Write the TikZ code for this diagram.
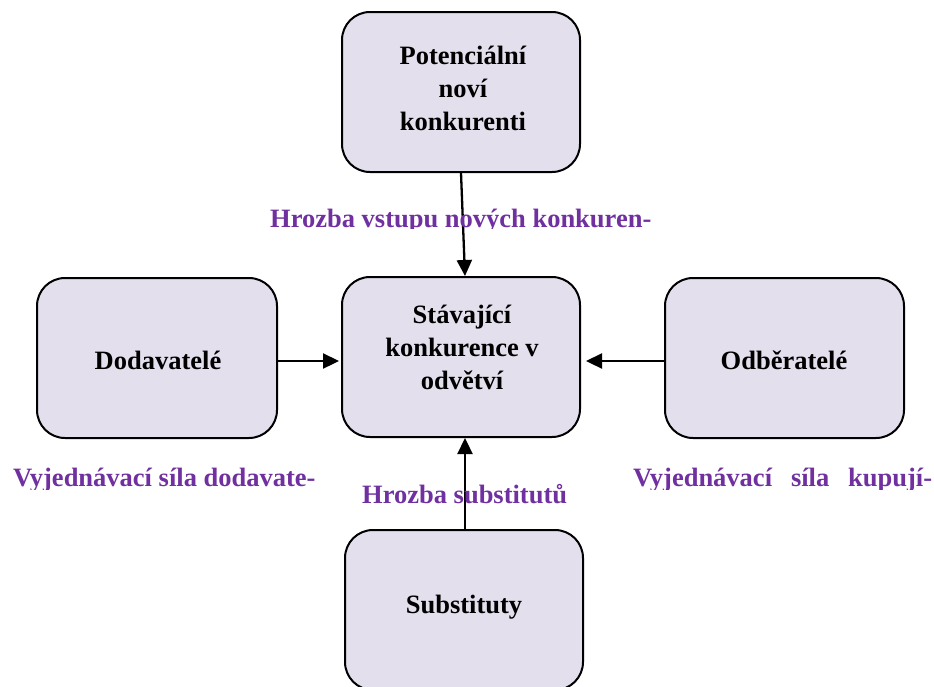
\documentclass[tikz,border=0pt]{standalone}
\usepackage{fontspec}
\setmainfont{Liberation Serif}
\usetikzlibrary{arrows.meta}
\definecolor{boxfill}{RGB}{228,223,236}
\definecolor{lblpurple}{RGB}{112,48,160}
\begin{document}
\begin{tikzpicture}[x=1pt,y=-1pt,
  box/.style={draw=black,line width=2pt,fill=boxfill,rounded corners=28pt,
    minimum width=238pt,minimum height=160pt,inner sep=0pt},
  boxtext/.style={inner sep=0pt,align=center,font=\fontsize{26.5}{33}\selectfont\bfseries},
  lbl/.style={inner sep=0pt,anchor=base west,text=lblpurple,font=\fontsize{26.5}{33}\selectfont\bfseries},
  arr/.style={line width=2.3pt,-{Triangle[length=16pt,width=15pt]}}]
\useasboundingbox (0,0) rectangle (934,686);
\clip (0,0) rectangle (934,686);
% boxes
\node[box] (top) at (461,92) {};
\node[box] (mid) at (461,357) {};
\node[box,minimum width=240pt] (left) at (157,358) {};
\node[box,minimum width=239pt] (right) at (784.5,358) {};
\node[box] (bot) at (464,610) {};
% box texts
\node[boxtext] (toptext) at (463,88) {Potenciální\\noví\\konkurenti};
\node[boxtext] (midtext) at (462,347) {Stávající\\konkurence v\\odvětví};
\node[boxtext] (lefttext) at (158,360) {Dodavatelé};
\node[boxtext] (righttext) at (784,360) {Odběratelé};
\node[boxtext] (bottext) at (464,607) {Substituty};
% arrows
\draw[arr] (top.south) -- ([xshift=4pt]mid.north);
\draw[arr] ([yshift=-3pt]left.east) -- ([xshift=-2pt,yshift=-4pt]mid.west);
\draw[arr] ([yshift=-3pt]right.west) -- ([xshift=5pt,yshift=-4pt]mid.east);
\draw[arr] ([xshift=1pt]bot.north) -- ([xshift=4pt]mid.south);
% labels (clipped just below baseline)
\begin{scope}
\clip (0,0) rectangle (934,228);
\node[lbl] (l1) at (270,227) {Hrozba vstupu nových konkuren-};
\end{scope}
\begin{scope}
\clip (0,300) rectangle (934,489);
\node[lbl] (l2) at (13,486) {Vyjednávací síla dodavate-};
\node[lbl] (l3) at (633,486) {\makebox[299pt][s]{Vyjednávací síla kupují-}};
\end{scope}
\node[lbl] (l4) at (362,503) {Hrozba substitutů};
\end{tikzpicture}
\end{document}
